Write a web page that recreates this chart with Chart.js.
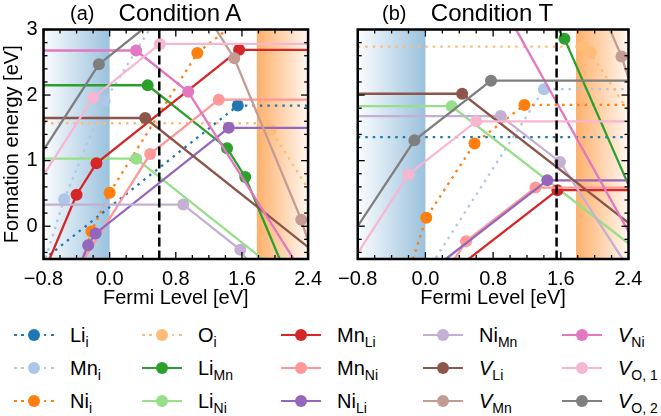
<!DOCTYPE html>
<html><head><meta charset="utf-8">
<script src="https://cdn.jsdelivr.net/npm/chart.js@4.4.1/dist/chart.umd.min.js"></script>
<style>
html,body{margin:0;padding:0;background:#fff}
body{width:661px;height:416px;position:relative;overflow:hidden;font-family:"Liberation Sans",Arial,sans-serif;color:#000}
canvas{position:absolute;top:0}
.t{position:absolute;white-space:nowrap;line-height:1}
.lg{position:absolute;white-space:nowrap;font-size:20px;line-height:1}
.lg sub{font-size:14px;vertical-align:-5px;line-height:0}
.sw{position:absolute;width:40px;height:12px}
.sw .ln{position:absolute;left:0;right:0;top:5px;height:2.4px}
.sw .mk{position:absolute;left:14px;top:0;width:12px;height:12px;border-radius:50%}
</style></head><body>
<canvas id="cA" width="330" height="320" style="left:0"></canvas>
<canvas id="cB" width="331" height="320" style="left:330px"></canvas>
<div class="t" style="left:70px;top:3px;font-size:20px">(a)</div>
<div class="t" style="left:80px;width:200px;text-align:center;top:1px;font-size:24px">Condition A</div>
<div class="t" style="left:382px;top:3px;font-size:20px">(b)</div>
<div class="t" style="left:392px;width:200px;text-align:center;top:1px;font-size:24px">Condition T</div>
<div id="legend"></div>
<script>
// ---------- axis settings ----------
const xTicks = [-0.8, 0.0, 0.8, 1.6, 2.4];
const yTicks = [0, 1, 2, 3];
const xRange = [-0.8, 2.4];
const yRange = [-0.5, 3.0];
const bandEdges = [0.0, 1.78];     // VBM and CBM (eV)
const fermiLevels = [0.60, 1.55];  // dashed lines, panel (a) and (b)

// ---------- series ----------
const defectLabels = ['Li<sub>i</sub>','Mn<sub>i</sub>','Ni<sub>i</sub>','O<sub>i</sub>',
  'Li<sub>Mn</sub>','Li<sub>Ni</sub>','Mn<sub>Li</sub>','Mn<sub>Ni</sub>','Ni<sub>Li</sub>',
  'Ni<sub>Mn</sub>','<i>V</i><sub>Li</sub>','<i>V</i><sub>Mn</sub>','<i>V</i><sub>Ni</sub>',
  '<i>V</i><sub>O, 1</sub>','<i>V</i><sub>O, 2</sub>'];
const seriesColors = ['#1f77b4','#aec7e8','#ff7f0e','#ffbb78','#2ca02c','#98df8a','#d62728',
  '#ff9896','#9467bd','#c5b0d5','#8c564b','#c49c94','#e377c2','#f7b6d2','#7f7f7f'];
const dottedSeries = [true,true,true,true,false,false,false,false,false,false,false,false,false,false,false];

// Panel (a) Condition A : [Fermi level, formation energy]
const A_Li_i  = [[-0.8,-0.51],[1.55,1.84],[2.4,1.84]];
const A_Mn_i  = [[-0.8,-0.59],[-0.55,0.41],[-0.06,1.91],[1.40,4.85],[2.4,4.85]];
const A_Ni_i  = [[-0.8,-2.40],[-0.22,-0.08],[0.0,0.51],[1.06,2.64],[2.4,3.98]];
const A_O_i   = [[-0.8,1.57],[1.86,1.57],[1.95,1.47],[2.4,0.57]];
const A_Li_Mn = [[-0.8,2.15],[0.46,2.15],[1.42,1.19],[1.64,0.75],[2.4,-1.53]];
const A_Li_Ni = [[-0.8,1.03],[0.32,1.03],[2.4,-1.05]];
const A_Mn_Li = [[-0.8,-0.72],[-0.40,0.48],[-0.16,0.96],[1.566,2.69],[2.4,2.69]];
const A_Mn_Ni = [[-0.8,-1.48],[0.49,1.10],[1.32,1.93],[2.4,1.93]];
const A_Ni_Li = [[-0.8,-1.91],[-0.26,-0.29],[-0.17,-0.11],[1.44,1.50],[2.4,1.50]];
const A_Ni_Mn = [[-0.8,0.33],[0.89,0.33],[1.58,-0.36],[2.4,-2.0]];
const A_V_Li  = [[-0.8,1.65],[0.43,1.65],[2.4,-0.32]];
const A_V_Mn  = [[-0.8,7.17],[1.507,2.56],[2.317,0.10],[2.4,-0.23]];
const A_V_Ni  = [[-0.8,2.68],[0.32,2.68],[0.95,2.05],[2.4,-0.85]];
const A_V_O1  = [[-0.8,0.78],[-0.20,1.96],[0.607,2.78],[2.4,2.78]];
const A_V_O2  = [[-0.8,1.16],[-0.13,2.47],[0.775,3.38],[2.4,3.38]];

// Panel (b) Condition T
const B_Li_i  = [[-0.8,1.36],[2.4,1.36]];
const B_Mn_i  = [[-0.8,-3.32],[-0.55,-2.32],[-0.06,-0.85],[1.40,2.09],[2.4,2.09]];
const B_Ni_i  = [[-0.8,-3.11],[0.01,0.13],[0.58,1.26],[1.17,1.85],[2.4,1.85]];
const B_O_i   = [[-0.8,2.74],[1.86,2.74],[1.95,2.65],[2.4,1.75]];
const B_Li_Mn = [[-0.8,4.26],[0.46,4.26],[1.42,3.30],[1.643,2.86],[2.4,0.63]];
const B_Li_Ni = [[-0.8,1.83],[0.31,1.83],[2.4,-0.26]];
const B_Mn_Li = [[-0.8,-2.85],[-0.40,-1.65],[-0.16,-1.17],[1.56,0.55],[2.4,0.55]];
const B_Mn_Ni = [[-0.8,-2.79],[0.48,-0.23],[1.30,0.59],[2.4,0.59]];
const B_Ni_Li = [[-0.8,-2.71],[-0.26,-1.09],[-0.17,-0.91],[1.44,0.70],[2.4,0.70]];
const B_Ni_Mn = [[-0.8,1.68],[0.89,1.68],[1.59,0.98],[2.4,-0.64]];
const B_V_Li  = [[-0.8,2.02],[0.434,2.02],[2.4,0.05]];
const B_V_Mn  = [[-0.8,9.63],[1.507,5.02],[2.317,2.59],[2.4,2.26]];
const B_V_Ni  = [[-0.8,3.91],[0.32,3.91],[0.95,3.28],[2.4,-0.08]];
const B_V_O1  = [[-0.8,-0.41],[-0.20,0.79],[0.60,1.60],[2.4,1.60]];
const B_V_O2  = [[-0.8,0.0],[-0.13,1.31],[0.775,2.22],[2.4,2.22]];

const panelA = [A_Li_i,A_Mn_i,A_Ni_i,A_O_i,A_Li_Mn,A_Li_Ni,A_Mn_Li,A_Mn_Ni,A_Ni_Li,A_Ni_Mn,A_V_Li,A_V_Mn,A_V_Ni,A_V_O1,A_V_O2];
const panelB = [B_Li_i,B_Mn_i,B_Ni_i,B_O_i,B_Li_Mn,B_Li_Ni,B_Mn_Li,B_Mn_Ni,B_Ni_Li,B_Ni_Mn,B_V_Li,B_V_Mn,B_V_Ni,B_V_O1,B_V_O2];

// ---------- chart building ----------
const FONT = '"Liberation Sans", Arial, sans-serif';
const N = panelA.length;

function makeDatasets(panel){
  return panel.map((pts,i)=>({
    label: defectLabels[i],
    data: pts.map(p=>({x:p[0], y:p[1]})),
    borderColor: seriesColors[i],
    backgroundColor: seriesColors[i],
    borderWidth: 2.3,
    borderDash: dottedSeries[i] ? [2.5,5] : [],
    pointRadius: c => (c.dataIndex===0 || c.dataIndex===pts.length-1) ? 0 : 6,
    pointBorderWidth: 0,
    pointHoverRadius: 0,
    tension: 0,
    fill: false,
    order: N - i
  }));
}

const decor = {
  id: 'decor',
  beforeDatasetsDraw(chart){
    const {ctx, chartArea:a, scales:{x}} = chart;
    ctx.save();
    ctx.beginPath(); ctx.rect(a.left,a.top,a.width,a.height); ctx.clip();
    const x0 = x.getPixelForValue(xRange[0]), x1 = x.getPixelForValue(bandEdges[0]);
    let g = ctx.createLinearGradient(x0,0,x1,0);
    g.addColorStop(0,'rgba(31,119,180,0.02)');
    g.addColorStop(1,'rgba(31,119,180,0.45)');
    ctx.fillStyle = g; ctx.fillRect(x0,a.top,x1-x0,a.height);
    const x2 = x.getPixelForValue(bandEdges[1]), x3 = x.getPixelForValue(xRange[1]);
    g = ctx.createLinearGradient(x2,0,x3,0);
    g.addColorStop(0,'rgba(255,127,14,0.62)');
    g.addColorStop(1,'rgba(255,127,14,0.06)');
    ctx.fillStyle = g; ctx.fillRect(x2,a.top,x3-x2,a.height);
    ctx.restore();
  },
  afterDatasetsDraw(chart, args, opts){
    const {ctx, chartArea:a, scales:{x,y}} = chart;
    ctx.save();
    // dashed Fermi level
    const xf = x.getPixelForValue(opts.fermi);
    ctx.strokeStyle = '#000'; ctx.lineWidth = 2.5; ctx.setLineDash([9,4]);
    ctx.beginPath(); ctx.moveTo(xf,a.top); ctx.lineTo(xf,a.bottom); ctx.stroke();
    ctx.setLineDash([]);
    // inward ticks on all sides
    ctx.lineWidth = 1.3;
    const seg = (x1,y1,x2,y2)=>{ctx.beginPath();ctx.moveTo(x1,y1);ctx.lineTo(x2,y2);ctx.stroke();};
    for (let k = 0; k <= 16; k++){
      const v = xRange[0] + k*0.2;
      const px = x.getPixelForValue(v);
      const L = (k % 4 === 0) ? 7 : 4;
      seg(px,a.bottom,px,a.bottom-L); seg(px,a.top,px,a.top+L);
    }
    for (let k = 0; k <= 17; k++){
      const v = -0.4 + k*0.2;
      const py = y.getPixelForValue(v);
      const major = yTicks.some(t=>Math.abs(t-v)<1e-6);
      const L = major ? 7 : 4;
      seg(a.left,py,a.left+L,py); seg(a.right,py,a.right-L,py);
    }
    // frame
    ctx.lineWidth = 2.5;
    ctx.strokeRect(a.left,a.top,a.width,a.height);
    ctx.restore();
  }
};

function fmtX(v){ return (v < 0 ? '\u2212' : '') + Math.abs(v).toFixed(1); }

function makeChart(id, panel, opt){
  return new Chart(document.getElementById(id), {
    type: 'line',
    data: { datasets: makeDatasets(panel) },
    options: {
      responsive: false, animation: false, devicePixelRatio: 1,
      layout: { padding: { top: 29.5, right: opt.padRight, left: 0, bottom: 0 } },
      plugins: { legend:{display:false}, tooltip:{enabled:false}, title:{display:false}, decor:{fermi: opt.fermi} },
      scales: {
        x: {
          type:'linear', min:xRange[0], max:xRange[1],
          afterBuildTicks: s => { s.ticks = xTicks.map(v=>({value:v})); },
          afterFit: s => { s.height = 61; },
          grid:{display:false, drawTicks:false}, border:{display:false},
          ticks:{font:{size:20,family:FONT}, color:'#000', padding:8, maxRotation:0, autoSkip:false, callback: v=>fmtX(v)},
          title:{display:true, text:'Fermi Level [eV]', color:'#000', font:{size:20,family:FONT}, padding:{top:0,bottom:10}}
        },
        y: {
          type:'linear', min:yRange[0], max:yRange[1],
          afterBuildTicks: s => { s.ticks = yTicks.map(v=>({value:v})); },
          afterFit: s => { s.width = opt.yWidth; },
          grid:{display:false, drawTicks:false}, border:{display:false},
          ticks:{display: opt.yLabels, font:{size:20,family:FONT}, color:'#000', padding:6, callback: v=>String(v)},
          title:{display: opt.yLabels, text:'Formation energy [eV]', color:'#000', font:{size:20,family:FONT}, padding:{top:0,bottom:0}}
        }
      }
    },
    plugins: [decor]
  });
}

makeChart('cA', panelA, {fermi: fermiLevels[0], padRight: 14, yWidth: 43.5, yLabels: true});
makeChart('cB', panelB, {fermi: fermiLevels[1], padRight: 32.5, yWidth: 25.8, yLabels: false});

// ---------- legend (HTML, with subscripts) ----------
const legendColX = [34, 162, 301, 443, 582];
const legendRowY = [335, 368, 401];
const lg = document.getElementById('legend');
defectLabels.forEach((lab,i)=>{
  const c = Math.floor(i/3), r = i%3;
  const cx = legendColX[c], cy = legendRowY[r];
  const sw = document.createElement('div');
  sw.className = 'sw';
  sw.style.left = (cx-20)+'px'; sw.style.top = (cy-6)+'px';
  const ln = document.createElement('div'); ln.className='ln';
  ln.style.background = dottedSeries[i]
    ? `repeating-linear-gradient(to right, ${seriesColors[i]} 0 2.5px, transparent 2.5px 7.5px)`
    : seriesColors[i];
  const mk = document.createElement('div'); mk.className='mk'; mk.style.background = seriesColors[i];
  sw.appendChild(ln); sw.appendChild(mk); lg.appendChild(sw);
  const tx = document.createElement('div'); tx.className='lg';
  tx.innerHTML = lab;
  tx.style.left = (cx+36)+'px'; tx.style.top = (cy-10)+'px';
  lg.appendChild(tx);
});
</script>
</body></html>
